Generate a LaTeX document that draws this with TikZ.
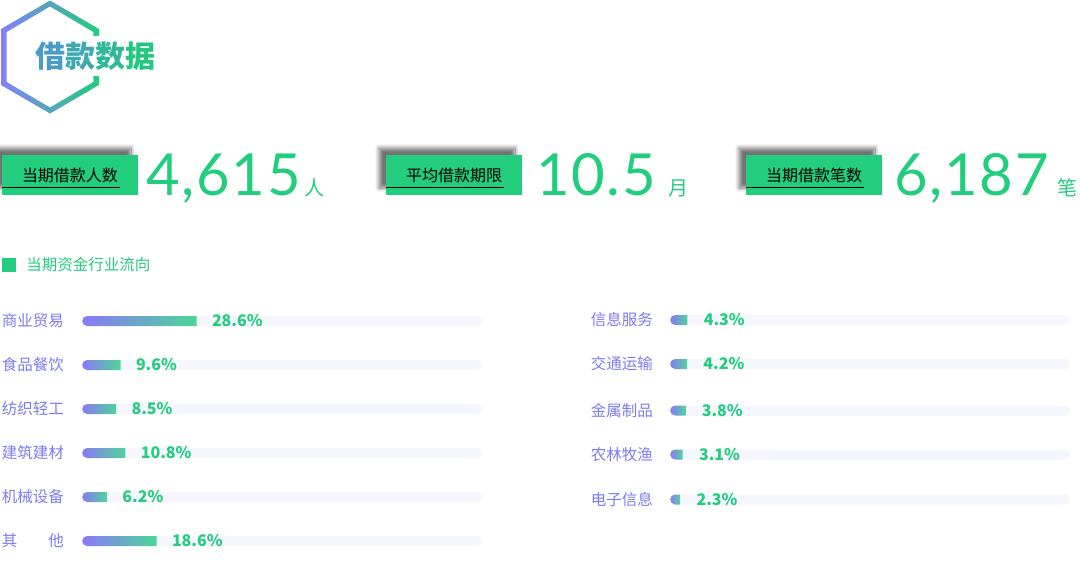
\documentclass[tikz,border=0pt]{standalone}
\usepackage{fontspec}
\usepackage{tikz}
\usetikzlibrary{calc,positioning,shapes.misc,shadows.blur}
\newfontfamily\cjk{Noto Sans CJK SC}
\newfontfamily\numfont[LetterSpace=3]{Lato}
\definecolor{maingreen}{HTML}{22CD7E}
\definecolor{hexpurple}{HTML}{8480FA}
\definecolor{barpurple}{HTML}{8B78F7}
\definecolor{bargreen}{HTML}{4CD69A}
\definecolor{tradepurple}{HTML}{7D7BF2}
\definecolor{trackgray}{HTML}{F5F6FE}
\definecolor{titleA}{HTML}{4A9CC6}
\definecolor{titleB}{HTML}{3FA8B0}
\definecolor{titleC}{HTML}{30B898}
\definecolor{titleD}{HTML}{22C880}

\begin{document}
\begin{tikzpicture}[x=1pt, y=-1pt,
    statbox/.style={fill=maingreen,
        minimum width=136pt,
        minimum height=40pt,
        inner sep=0pt,
        font=\cjk\fontsize{16}{16}\selectfont,
        blur shadow={shadow xshift=-7pt, shadow yshift=7pt,
            shadow blur radius=4pt, shadow blur steps=16,
            shadow opacity=55}},
    underline/.style={draw=black, line width=1pt},
    bignum/.style={inner sep=0pt, text=maingreen,
        font=\numfont\fontsize{58}{58}\selectfont},
    unit/.style={inner sep=0pt, text=maingreen,
        font=\cjk\fontsize{20}{20}\selectfont},
    heading/.style={inner sep=0pt, text=maingreen,
        font=\cjk\fontsize{15.5}{16}\selectfont},
    track/.style={rounded rectangle, fill=trackgray,
        minimum width=400pt, minimum height=10pt,
        inner sep=0pt, anchor=west},
    bar/.style={rounded rectangle, rounded rectangle right arc=none,
        left color=barpurple, right color=bargreen,
        minimum height=10pt, inner sep=0pt, anchor=west},
    trade/.style={inner sep=0pt, text=tradepurple,
        font=\cjk\fontsize{15.5}{16}\selectfont},
    pct/.style={inner sep=0pt, text=maingreen,
        font=\cjk\bfseries\fontsize{16}{16}\selectfont}
]
    \useasboundingbox (0,0) rectangle (1080,568);

    % Title
    \shade[left color=hexpurple, right color=maingreen, even odd rule]
        (50,0.5) -- (99,29) -- (99,85) -- (50,113.5) -- (1,85) -- (1,29) -- cycle
        (50,6.5) -- (93.3,32) -- (93.3,82) -- (50,107.5) -- (6.7,82) -- (6.7,32) -- cycle;
    \node [fill=white,
        inner sep=0pt,
        minimum height=40pt,
        anchor=west,
        font=\cjk\bfseries\fontsize{30}{30}\selectfont
    ]  (Title) at (35,56) {\textcolor{titleA}{借}\textcolor{titleB}{款}\textcolor{titleC}{数}\textcolor{titleD}{据}};

    % Stats
    \node [statbox] (BoxCount) at (70,175) {当期借款人数};
    \draw [underline] ([yshift=8pt]BoxCount.south west) -- ++(118pt,0);
    \node [bignum, anchor=base west] (NumCount) at (146,195) {4,615};
    \node [unit, base right=3pt of NumCount] (UnitCount) {人};

    \node [statbox] (BoxTerm) at (454,175) {平均借款期限};
    \draw [underline] ([yshift=8pt]BoxTerm.south west) -- ++(118pt,0);
    \node [bignum, anchor=base west] (NumTerm) at (536,195) {10.5};
    \node [unit, base right=12pt of NumTerm] (UnitTerm) {月};

    \node [statbox] (BoxLoans) at (814,175) {当期借款笔数};
    \draw [underline] ([yshift=8pt]BoxLoans.south west) -- ++(118pt,0);
    \node [bignum, anchor=base west] (NumLoans) at (894,195) {6,187};
    \node [unit, base right=8pt of NumLoans] (UnitLoans) {笔};

    % Flow
    \node [fill=maingreen, minimum size=14pt, inner sep=0pt] (Mark) at (9,265) {};
    \node [heading, right=10pt of Mark] (Heading) {当期资金行业流向};

    % Left column
    \node [track] (TrackTrade) at (82,321) {};
    \node [bar, minimum width=114.4pt] (BarTrade) at (TrackTrade.west) {};
    \node [trade, left=18pt of TrackTrade] (NameTrade) {商业贸易};
    \node [pct, right=15pt of BarTrade] (PctTrade) {28.6\%};

    \node [track] (TrackFood) at (82,365) {};
    \node [bar, minimum width=38.4pt] (BarFood) at (TrackFood.west) {};
    \node [trade, left=18pt of TrackFood] (NameFood) {食品餐饮};
    \node [pct, right=15pt of BarFood] (PctFood) {9.6\%};

    \node [track] (TrackTextile) at (82,409) {};
    \node [bar, minimum width=34pt] (BarTextile) at (TrackTextile.west) {};
    \node [trade, left=18pt of TrackTextile] (NameTextile) {纺织轻工};
    \node [pct, right=15pt of BarTextile] (PctTextile) {8.5\%};

    \node [track] (TrackBuild) at (82,453) {};
    \node [bar, minimum width=43.2pt] (BarBuild) at (TrackBuild.west) {};
    \node [trade, left=18pt of TrackBuild] (NameBuild) {建筑建材};
    \node [pct, right=15pt of BarBuild] (PctBuild) {10.8\%};

    \node [track] (TrackMachine) at (82,497) {};
    \node [bar, minimum width=24.8pt] (BarMachine) at (TrackMachine.west) {};
    \node [trade, left=18pt of TrackMachine] (NameMachine) {机械设备};
    \node [pct, right=15pt of BarMachine] (PctMachine) {6.2\%};

    \node [track] (TrackOther) at (82,541) {};
    \node [bar, minimum width=74.4pt] (BarOther) at (TrackOther.west) {};
    \node [trade, left=18pt of TrackOther] (NameOther) {\makebox[62pt]{其\hfill 他}};
    \node [pct, right=15pt of BarOther] (PctOther) {18.6\%};

    % Right column
    \node [track] (TrackInfo) at (670,320) {};
    \node [bar, minimum width=17.2pt] (BarInfo) at (TrackInfo.west) {};
    \node [trade, left=17pt of TrackInfo] (NameInfo) {信息服务};
    \node [pct, right=16pt of BarInfo] (PctInfo) {4.3\%};

    \node [track] (TrackTransport) at (670,364) {};
    \node [bar, minimum width=16.8pt] (BarTransport) at (TrackTransport.west) {};
    \node [trade, left=17pt of TrackTransport] (NameTransport) {交通运输};
    \node [pct, right=16pt of BarTransport] (PctTransport) {4.2\%};

    \node [track] (TrackMetal) at (670,410.5) {};
    \node [bar, minimum width=15.2pt] (BarMetal) at (TrackMetal.west) {};
    \node [trade, left=17pt of TrackMetal] (NameMetal) {金属制品};
    \node [pct, right=16pt of BarMetal] (PctMetal) {3.8\%};

    \node [track] (TrackFarm) at (670,454.5) {};
    \node [bar, minimum width=12.4pt] (BarFarm) at (TrackFarm.west) {};
    \node [trade, left=17pt of TrackFarm] (NameFarm) {农林牧渔};
    \node [pct, right=16pt of BarFarm] (PctFarm) {3.1\%};

    \node [track] (TrackElec) at (670,499.5) {};
    \node [bar, minimum width=9.2pt] (BarElec) at (TrackElec.west) {};
    \node [trade, left=17pt of TrackElec] (NameElec) {电子信息};
    \node [pct, right=16pt of BarElec] (PctElec) {2.3\%};

\end{tikzpicture}
\end{document}
